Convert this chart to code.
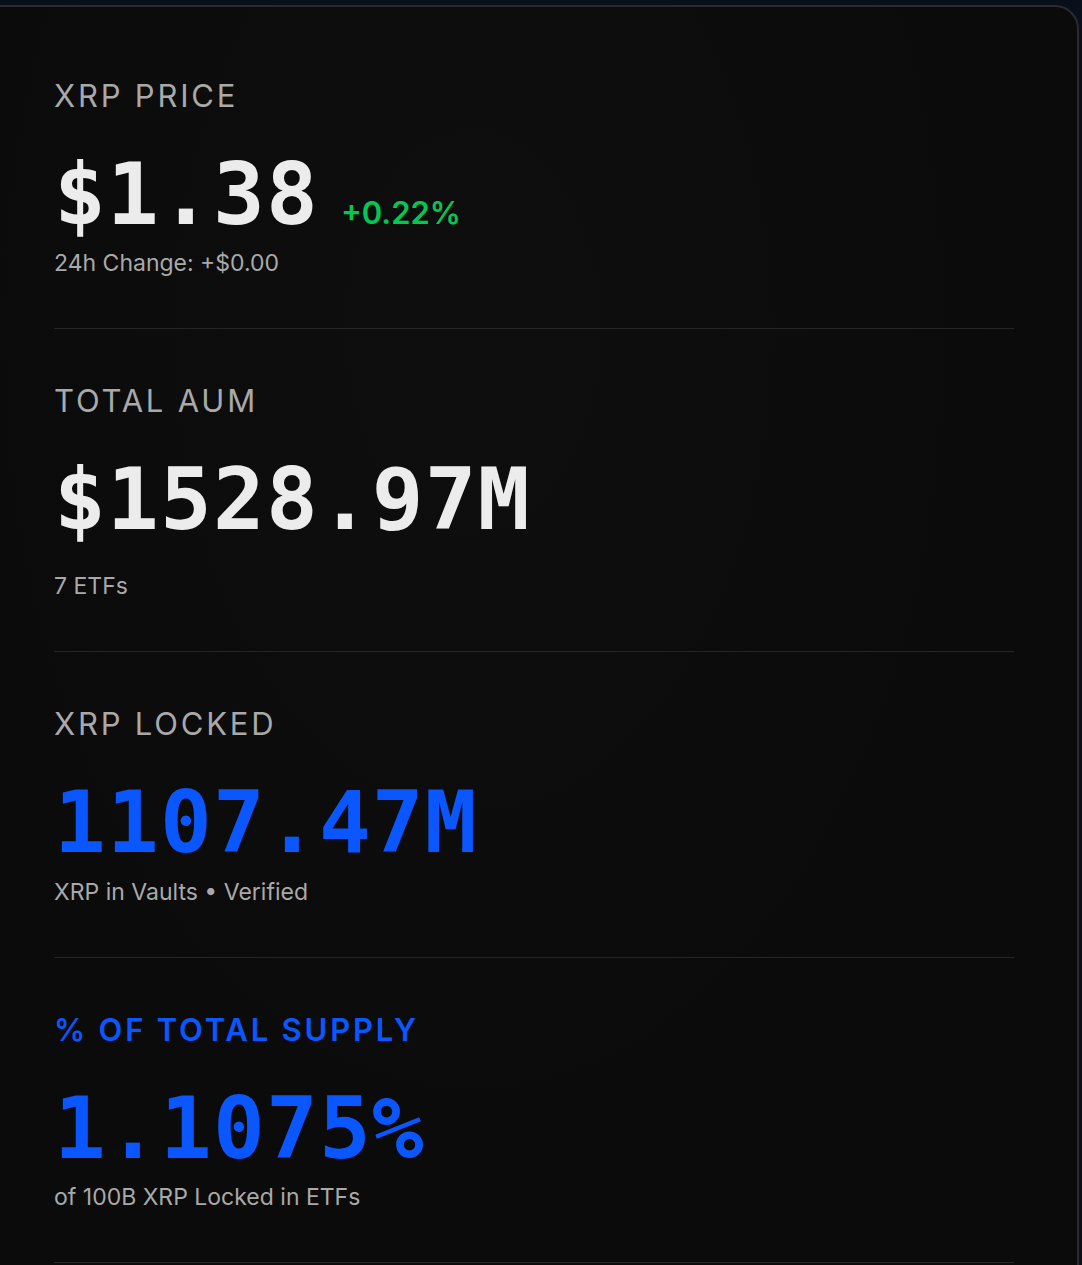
<!DOCTYPE html>
<html>
<head>
<meta charset="utf-8">
<script src="https://cdn.jsdelivr.net/npm/chart.js@4.4.1/dist/chart.umd.min.js"></script>
<style>
  html, body { margin: 0; padding: 0; }
  body {
    width: 1082px; height: 1265px; overflow: hidden;
    background: #0a0f1c;
    position: relative;
    font-family: "Inter", "Noto Sans", sans-serif;
  }
  .card {
    position: absolute; left: -24px; top: 5px;
    width: 1103px; height: 1300px;
    box-sizing: border-box;
    background: radial-gradient(ellipse at 45% 25%, #0e0e0f 0%, #0b0b0b 60%);
    border: 2px solid #2b2b2b;
    border-radius: 24px;
    padding: 0 65px 0 76px;
  }
  .section { display: block; }
  .label {
    font-size: 31px; line-height: 32px; color: #a9a9a9;
    letter-spacing: 2.8px; font-weight: 400; margin-top: 56px;
  }
  .section:first-child .label { margin-top: 72.6px; }
  .label.accent { color: #0a57ff; font-weight: 600; letter-spacing: 2.8px; }
  .valrow { display: flex; align-items: baseline; margin-top: 39px; }
  .value {
    font-family: "DejaVu Sans Mono", monospace; font-weight: 700;
    font-size: 86px; line-height: 86px; letter-spacing: 1.2px; color: #ececec;
  }
  .value.accent { color: #0a57ff; }
  .change { font-size: 31px; font-weight: 600; color: #00c853; margin-left: 22px; }
  .sub { font-size: 23px; line-height: 22px; color: #a9a9a9; margin-top: 15.5px; }
  .sub.wide { margin-top: 33px; }
  .divider { height: 1px; background: #262626; margin-top: 54px; width: 960px; }
</style>
</head>
<body>
<div class="card" id="card"></div>
<script>
  const labels = ["XRP PRICE", "TOTAL AUM", "XRP LOCKED", "% OF TOTAL SUPPLY"];
  const values = ["$1.38", "$1528.97M", "1107.47M", "1.1075%"];
  const changes = ["+0.22%", "", "", ""];
  const subtitles = ["24h Change: +$0.00", "7 ETFs", "XRP in Vaults \u2022 Verified", "of 100B XRP Locked in ETFs"];
  const accentLabel = [false, false, false, true];
  const accentValue = [false, false, true, true];

  const card = document.getElementById('card');
  labels.forEach((lab, i) => {
    const sec = document.createElement('div');
    sec.className = 'section';
    const l = document.createElement('div');
    l.className = 'label' + (accentLabel[i] ? ' accent' : '');
    l.textContent = lab;
    sec.appendChild(l);
    const row = document.createElement('div');
    row.className = 'valrow';
    const v = document.createElement('div');
    v.className = 'value' + (accentValue[i] ? ' accent' : '');
    v.textContent = values[i];
    row.appendChild(v);
    if (changes[i]) {
      const c = document.createElement('div');
      c.className = 'change';
      c.textContent = changes[i];
      row.appendChild(c);
    }
    sec.appendChild(row);
    const s = document.createElement('div');
    s.className = 'sub' + (i === 1 ? ' wide' : '');
    s.textContent = subtitles[i];
    sec.appendChild(s);
    const d = document.createElement('div');
    d.className = 'divider';
    sec.appendChild(d);
    card.appendChild(sec);
  });
</script>
</body>
</html>
